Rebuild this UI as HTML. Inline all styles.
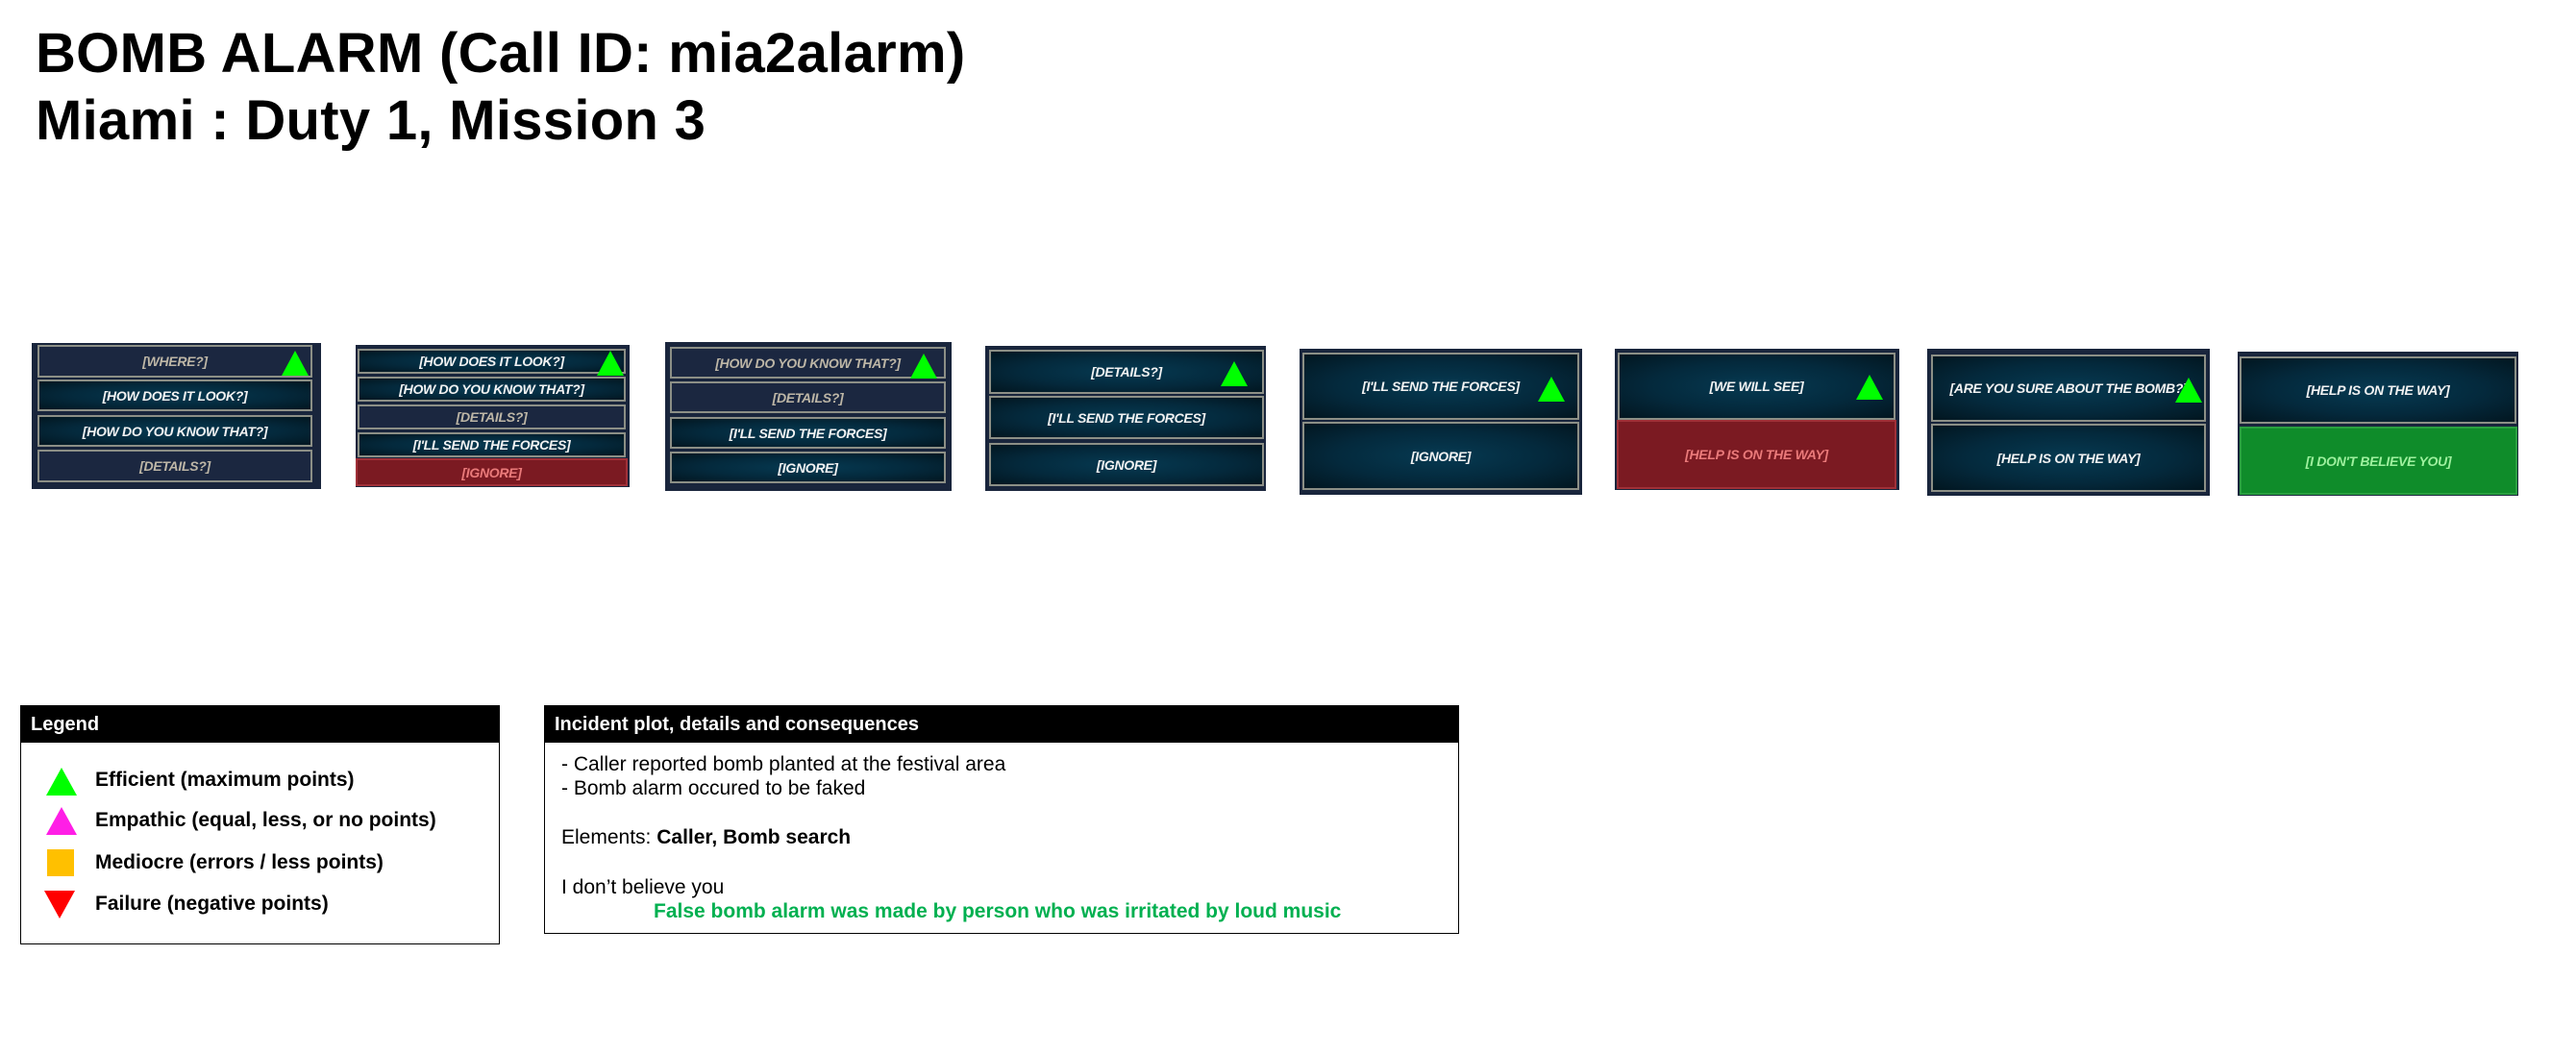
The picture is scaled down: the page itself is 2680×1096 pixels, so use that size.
<!DOCTYPE html>
<html><head><meta charset="utf-8"><style>
body{margin:0;width:2680px;height:1096px;background:#fff;position:relative;overflow:hidden;font-family:"Liberation Sans",sans-serif}
.a{position:absolute}
.t{font-weight:bold;font-size:58px;color:#000;left:37px;white-space:nowrap;letter-spacing:0.3px}
.p{position:absolute;background:#19253c}
.r{position:absolute;box-sizing:border-box;border:2px solid #8c8f86;display:flex;align-items:center;justify-content:center;font-weight:bold;font-style:italic;font-size:14px;letter-spacing:-0.3px;white-space:nowrap}
.on{background:radial-gradient(ellipse at center,#063a52 0%,#04293c 55%,#021620 100%);color:#f2f2f2}
.off{background:#1b2740;color:#bdb6a6}
.red{background:#7b1a22;color:#ea7a7a;border-color:#a03038}
.grn{background:#0f8c2a;color:#9ef09e;border-color:#2aa040}
.tri{position:absolute;width:0;height:0;border-left:14px solid transparent;border-right:14px solid transparent;border-bottom:26px solid #00ff00}
.box{position:absolute;border:1.5px solid #000;box-sizing:border-box;background:#fff}
.hd{background:#000;color:#fff;font-weight:bold;font-size:20px;height:38px;line-height:38px;padding-left:10px}
.tx{position:absolute;font-size:21px;white-space:nowrap;color:#000}
</style></head><body>
<div class="a t" style="top:22px">BOMB ALARM (Call ID: mia2alarm)</div>
<div class="a t" style="top:92px">Miami : Duty 1, Mission 3</div>

<!-- panel 1 -->
<div class="p" style="left:33px;top:357px;width:301px;height:152px"></div>
<div class="r off" style="left:39px;top:359px;width:286px;height:34px">[WHERE?]</div>
<div class="r on" style="left:39px;top:395px;width:286px;height:33px">[HOW DOES IT LOOK?]</div>
<div class="r on" style="left:39px;top:432px;width:286px;height:33px">[HOW DO YOU KNOW THAT?]</div>
<div class="r off" style="left:39px;top:468px;width:286px;height:34px">[DETAILS?]</div>
<div class="tri" style="left:293px;top:365px"></div>

<!-- panel 2 -->
<div class="p" style="left:370px;top:359px;width:285px;height:148px"></div>
<div class="r on" style="left:372px;top:363px;width:279px;height:26px">[HOW DOES IT LOOK?]</div>
<div class="r on" style="left:372px;top:392px;width:279px;height:26px">[HOW DO YOU KNOW THAT?]</div>
<div class="r off" style="left:372px;top:421px;width:279px;height:26px">[DETAILS?]</div>
<div class="r on" style="left:372px;top:450px;width:279px;height:26px">[I'LL SEND THE FORCES]</div>
<div class="r red" style="left:370px;top:477px;width:283px;height:29px">[IGNORE]</div>
<div class="tri" style="left:621px;top:365px"></div>

<!-- panel 3 -->
<div class="p" style="left:692px;top:356px;width:298px;height:155px"></div>
<div class="r off" style="left:697px;top:361px;width:287px;height:33px">[HOW DO YOU KNOW THAT?]</div>
<div class="r off" style="left:697px;top:397px;width:287px;height:33px">[DETAILS?]</div>
<div class="r on" style="left:697px;top:434px;width:287px;height:33px">[I'LL SEND THE FORCES]</div>
<div class="r on" style="left:697px;top:470px;width:287px;height:33px">[IGNORE]</div>
<div class="tri" style="left:947px;top:368px"></div>

<!-- panel 4 -->
<div class="p" style="left:1025px;top:360px;width:292px;height:151px"></div>
<div class="r on" style="left:1029px;top:364px;width:286px;height:46px">[DETAILS?]</div>
<div class="r on" style="left:1029px;top:412px;width:286px;height:45px">[I'LL SEND THE FORCES]</div>
<div class="r on" style="left:1029px;top:461px;width:286px;height:45px">[IGNORE]</div>
<div class="tri" style="left:1270px;top:376px"></div>

<!-- panel 5 -->
<div class="p" style="left:1352px;top:363px;width:294px;height:152px"></div>
<div class="r on" style="left:1355px;top:367px;width:288px;height:70px">[I'LL SEND THE FORCES]</div>
<div class="r on" style="left:1355px;top:439px;width:288px;height:71px">[IGNORE]</div>
<div class="tri" style="left:1600px;top:392px"></div>

<!-- panel 6 -->
<div class="p" style="left:1680px;top:363px;width:296px;height:147px"></div>
<div class="r on" style="left:1683px;top:367px;width:289px;height:70px">[WE WILL SEE]</div>
<div class="r red" style="left:1682px;top:437px;width:291px;height:72px">[HELP IS ON THE WAY]</div>
<div class="tri" style="left:1931px;top:390px"></div>

<!-- panel 7 -->
<div class="p" style="left:2005px;top:363px;width:294px;height:153px"></div>
<div class="r on" style="left:2009px;top:369px;width:286px;height:70px">[ARE YOU SURE ABOUT THE BOMB?]</div>
<div class="r on" style="left:2009px;top:441px;width:286px;height:71px">[HELP IS ON THE WAY]</div>
<div class="tri" style="left:2263px;top:393px"></div>

<!-- panel 8 -->
<div class="p" style="left:2328px;top:366px;width:292px;height:150px"></div>
<div class="r on" style="left:2330px;top:371px;width:288px;height:70px">[HELP IS ON THE WAY]</div>
<div class="r grn" style="left:2330px;top:444px;width:289px;height:71px">[I DON'T BELIEVE YOU]</div>

<!-- legend -->
<div class="box" style="left:21px;top:734px;width:499px;height:249px"><div class="hd">Legend</div></div>
<div class="a" style="left:48px;top:799px;width:0;height:0;border-left:16px solid transparent;border-right:16px solid transparent;border-bottom:29px solid #00ff00"></div>
<div class="a" style="left:48px;top:840px;width:0;height:0;border-left:16px solid transparent;border-right:16px solid transparent;border-bottom:29px solid #ff1ee6"></div>
<div class="a" style="left:49px;top:884px;width:28px;height:28px;background:#ffc000"></div>
<div class="a" style="left:46px;top:927px;width:0;height:0;border-left:16px solid transparent;border-right:16px solid transparent;border-top:29px solid #ff0000"></div>
<div class="tx" style="left:99px;top:800px;font-weight:bold">Efficient (maximum points)</div>
<div class="tx" style="left:99px;top:842px;font-weight:bold">Empathic (equal, less, or no points)</div>
<div class="tx" style="left:99px;top:886px;font-weight:bold">Mediocre (errors / less points)</div>
<div class="tx" style="left:99px;top:929px;font-weight:bold">Failure (negative points)</div>

<!-- incident -->
<div class="box" style="left:566px;top:734px;width:952px;height:238px"><div class="hd">Incident plot, details and consequences</div></div>
<div class="tx" style="left:584px;top:784px">- Caller reported bomb planted at the festival area</div>
<div class="tx" style="left:584px;top:809px">- Bomb alarm occured to be faked</div>
<div class="tx" style="left:584px;top:860px">Elements: <b>Caller, Bomb search</b></div>
<div class="tx" style="left:584px;top:912px">I don’t believe you</div>
<div class="tx" style="left:680px;top:937px;color:#00b050;font-weight:bold">False bomb alarm was made by person who was irritated by loud music</div>
</body></html>
